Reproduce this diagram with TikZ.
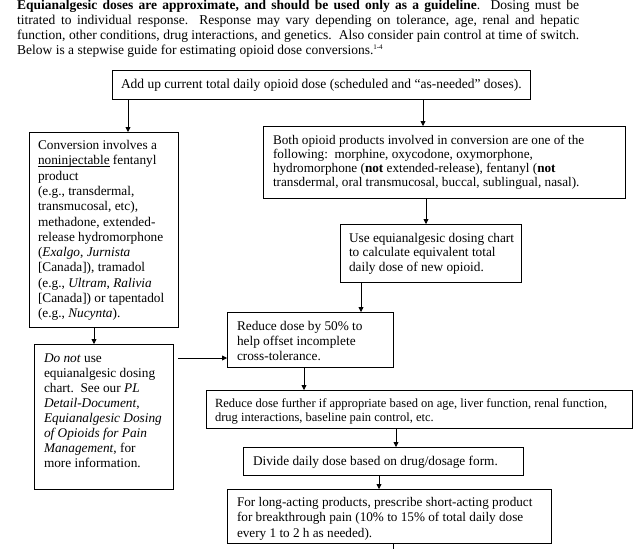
\documentclass[tikz,border=0pt]{standalone}
\usepackage{fontspec}
\setmainfont{Liberation Serif}
\usetikzlibrary{arrows.meta}
\frenchspacing
% #1 font size, #2 width, #3 height, #4 left pad, #5 baselineskip, #6 first baseline offset, #7 text
\newcommand{\btext}[7]{\parbox[c][#3][t]{#2}{\fontsize{#1}{#5}\selectfont\raggedright\leftskip=#4\relax\rightskip=-100pt plus 1fil\relax\rule{0pt}{#6}#7}}
\newsavebox{\ulbox}
\newcommand{\ulword}[1]{\leavevmode\sbox{\ulbox}{#1}\rlap{\rule[-1.8pt]{\wd\ulbox}{0.7pt}}\usebox{\ulbox}}
\tikzset{
  box/.style={draw=black, line width=1pt, inner sep=0pt, outer sep=0pt, anchor=north west},
  arr/.style={draw=black, line width=0.8pt, -{Triangle[length=5pt,width=5pt]}},
  plain/.style={draw=black, line width=0.8pt}
}
\begin{document}
\begin{tikzpicture}[x=1pt,y=-1pt]
\fill[white] (0,0) rectangle (639,549);
\useasboundingbox (0,0) rectangle (639,549);

\node[inner sep=0pt, anchor=base west] (intro) at (17,9.5) {\parbox[t]{562pt}{\fontsize{13.5}{15}\selectfont
\hbox to 562pt{\textbf{Equianalgesic doses are approximate, and should be used only as a guideline}.\ \ Dosing must be}
\hbox to 562pt{titrated to individual response.\ \ Response may vary depending on tolerance, age, renal and hepatic}
\hbox to 562pt{function, other conditions, drug interactions, and genetics.\ \ Also consider pain control at time of switch.}
\hbox{Below is a stepwise guide for estimating opioid dose conversions.\textsuperscript{\fontsize{7}{8}\selectfont 1-4}}}};

\node[box] (top) at (112,70) {\btext{13.5}{418pt}{29pt}{9pt}{15pt}{18pt}{Add up current total daily opioid dose (scheduled and “as-needed” doses).}};

\node[box] (L) at (29,132) {\btext{13.3}{149pt}{195pt}{9pt}{15.3pt}{17.5pt}{Conversion involves a\\
\ulword{noninjectable} fentanyl\\
product\\
(e.g., transdermal,\\
transmucosal, etc),\\
methadone, extended-\\
release hydromorphone\\
(\textit{Exalgo}, \textit{Jurnista}\\
{[}Canada]), tramadol\\
(e.g., \textit{Ultram}, \textit{Ralivia}\\
{[}Canada]) or tapentadol\\
(e.g., \textit{Nucynta}).}};

\node[box] (R) at (263,126) {\btext{13.2}{362pt}{72pt}{10pt}{14.2pt}{18pt}{Both opioid products involved in conversion are one of the\\
following:\ \ morphine, oxycodone, oxymorphone,\\
hydromorphone (\textbf{not} extended-release), fentanyl (\textbf{not}\\
transdermal, oral transmucosal, buccal, sublingual, nasal).}};

\node[box] (U) at (340,224) {\btext{13.3}{181pt}{58pt}{9pt}{14.5pt}{18pt}{Use equianalgesic dosing chart\\
to calculate equivalent total\\
daily dose of new opioid.}};

\node[box] (D) at (34,344) {\btext{13.3}{139pt}{145pt}{10pt}{15pt}{18pt}{\textit{Do not} use\\
equianalgesic dosing\\
chart.\ \ See our \textit{PL}\\
\textit{Detail-Document},\\
\textit{Equianalgesic Dosing}\\
\textit{of Opioids for Pain}\\
\textit{Management}, for\\
more information.}};

\node[box] (H) at (227,312) {\btext{13.3}{166pt}{55pt}{10pt}{15pt}{18pt}{Reduce dose by 50\% to\\
help offset incomplete\\
cross-tolerance.}};

\node[box] (F) at (206,390) {\btext{12.5}{426pt}{38pt}{9pt}{14pt}{17pt}{Reduce dose further if appropriate based on age, liver function, renal function,\\
drug interactions, baseline pain control, etc.}};

\node[box] (V) at (243,447) {\btext{13.3}{280pt}{28pt}{10pt}{15pt}{18pt}{Divide daily dose based on drug/dosage form.}};

\node[box] (B) at (227,489) {\btext{13.2}{324pt}{54pt}{10pt}{15.5pt}{17pt}{For long-acting products, prescribe short-acting product\\
for breakthrough pain (10\% to 15\% of total daily dose\\
every 1 to 2 h as needed).}};

\coordinate (xTL) at (128,0);
\coordinate (xTR) at (423,0);
\coordinate (xRU) at (426,0);
\coordinate (xUH) at (361,0);
\coordinate (xLD) at (94,0);
\coordinate (yDH) at (0,358);
\coordinate (xHF) at (304,0);
\coordinate (xFV) at (396,0);
\coordinate (xVB) at (379,0);
\coordinate (bend) at (393,549);

\draw[arr] (top.south -| xTL) -- (L.north -| xTL);
\draw[arr] (top.south -| xTR) -- (R.north -| xTR);
\draw[arr] (R.south -| xRU) -- (U.north -| xRU);
\draw[arr] (U.south -| xUH) -- (H.north -| xUH);
\draw[arr] (L.south -| xLD) -- (D.north -| xLD);
\draw[arr, shorten <=5pt] (D.east |- yDH) -- (H.west |- yDH);
\draw[arr] (H.south -| xHF) -- (F.north -| xHF);
\draw[arr] (F.south -| xFV) -- (V.north -| xFV);
\draw[arr] (V.south -| xVB) -- (B.north -| xVB);
\draw[plain] (B.south -| bend) -- (bend);
\end{tikzpicture}
\end{document}
